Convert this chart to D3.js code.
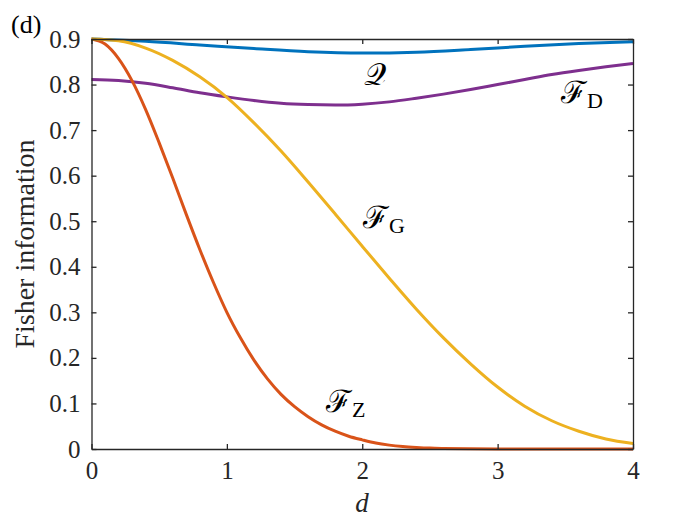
<!DOCTYPE html>
<html><head><meta charset="utf-8">
<script src="https://cdn.jsdelivr.net/npm/d3@7"></script>
<style>body{margin:0;background:#fff}svg{display:block}</style>
</head><body>
<svg id="c" width="700" height="525"></svg>
<script>
const xTicks = [0, 1, 2, 3, 4];
const yTicks = [0, 0.1, 0.2, 0.3, 0.4, 0.5, 0.6, 0.7, 0.8, 0.9];
const yTickLabels = ["0", "0.1", "0.2", "0.3", "0.4", "0.5", "0.6", "0.7", "0.8", "0.9"];

const qD = [0, 0.4, 0.8, 1.2, 1.6, 2.0, 2.4, 2.8, 3.2, 3.6, 4.0];
const qV = [0.900, 0.895, 0.887, 0.879, 0.872, 0.869, 0.871, 0.877, 0.884, 0.890, 0.894];

const fdD = [0, 0.2, 0.4, 0.6, 0.8, 1.0, 1.2, 1.4, 1.6, 1.8, 2.0, 2.2, 2.4, 2.6, 2.8, 3.0, 3.2, 3.4, 3.6, 3.8, 4.0];
const fdV = [0.811, 0.809, 0.803, 0.793, 0.782, 0.773, 0.765, 0.759, 0.756, 0.755, 0.757, 0.762, 0.770, 0.779, 0.789, 0.800, 0.811, 0.822, 0.831, 0.839, 0.846];

const fgD = [0, 0.2, 0.4, 0.6, 0.8, 1.0, 1.2, 1.4, 1.6, 1.8, 2.0, 2.2, 2.4, 2.6, 2.8, 3.0, 3.2, 3.4, 3.6, 3.8, 4.0];
const fgV = [0.900, 0.896, 0.880, 0.853, 0.817, 0.772, 0.716, 0.654, 0.586, 0.516, 0.445, 0.375, 0.307, 0.244, 0.187, 0.136, 0.094, 0.062, 0.039, 0.022, 0.012];

const fzD = [0, 0.1, 0.2, 0.3, 0.4, 0.5, 0.6, 0.7, 0.8, 0.9, 1.0, 1.1, 1.2, 1.3, 1.4, 1.5, 1.6, 1.7, 1.8, 1.9, 2.0, 2.1, 2.2, 2.3, 2.4, 2.5, 2.6, 2.8, 3.0, 3.5, 4.0];
const fzV = [0.900, 0.889, 0.857, 0.808, 0.745, 0.672, 0.595, 0.515, 0.438, 0.366, 0.300, 0.244, 0.195, 0.154, 0.120, 0.093, 0.071, 0.053, 0.039, 0.028, 0.020, 0.013, 0.0085, 0.0055, 0.0035, 0.002, 0.0012, 0.0004, 0.0001, 0, 0];

const seriesNames = ["Q", "FD", "FZ", "FG"];
const seriesColors = ["#0072BD", "#7E2F8E", "#D95319", "#EDB120"];

const svg = d3.select("#c");
const x = d3.scaleLinear().domain([0, 4]).range([91.5, 633]);
const y = d3.scaleLinear().domain([0, 0.9]).range([449, 39]);
const serif = "'Liberation Serif','Times New Roman',serif";
const axisCol = "#262626";

// data lines
const line = d3.line().x(d => x(d[0])).y(d => y(d[1])).curve(d3.curveMonotoneX);
const series = [
  [qD, qV], [fdD, fdV], [fzD, fzV], [fgD, fgV]
];
series.forEach((s, i) => {
  const pts = s[0].map((d, k) => [d, s[1][k]]);
  svg.append("path").datum(pts).attr("d", line)
    .attr("fill", "none").attr("stroke", seriesColors[i])
    .attr("stroke-width", 3).attr("stroke-linejoin", "round").attr("stroke-linecap", "butt");
});

// axes
const tickLen = 5;
const gB = svg.append("g").attr("transform", `translate(0,${y(0)})`)
  .call(d3.axisBottom(x).tickValues(xTicks).tickFormat(d3.format("d")).tickSizeInner(-tickLen).tickSizeOuter(0).tickPadding(12));
const gT = svg.append("g").attr("transform", `translate(0,${y(0.9)})`)
  .call(d3.axisTop(x).tickValues(xTicks).tickFormat("").tickSizeInner(-tickLen).tickSizeOuter(0));
const gL = svg.append("g").attr("transform", `translate(${x(0)},0)`)
  .call(d3.axisLeft(y).tickValues(yTicks).tickFormat((d, i) => yTickLabels[i]).tickSizeInner(-tickLen).tickSizeOuter(0).tickPadding(11));
const gR = svg.append("g").attr("transform", `translate(${x(4)},0)`)
  .call(d3.axisRight(y).tickValues(yTicks).tickFormat("").tickSizeInner(-tickLen).tickSizeOuter(0));
[gB, gT, gL, gR].forEach(g => {
  g.select(".domain").attr("stroke", axisCol).attr("stroke-width", 1.3);
  g.selectAll(".tick line").attr("stroke", axisCol).attr("stroke-width", 1.3);
  g.selectAll(".tick text").attr("fill", axisCol).attr("font-family", serif).attr("font-size", 25);
});

// axis labels
svg.append("text").attr("x", 362).attr("y", 512).attr("text-anchor", "middle")
  .attr("font-family", serif).attr("font-style", "italic").attr("font-size", 27).attr("fill", axisCol).text("d");
svg.append("text").attr("transform", `translate(34,${(y(0)+y(0.9))/2}) rotate(-90)`).attr("text-anchor", "middle")
  .attr("font-family", serif).attr("font-size", 28).attr("fill", axisCol).text("Fisher information");
svg.append("text").attr("x", 11).attr("y", 33).attr("font-family", serif).attr("font-size", 26).attr("fill", "#000").text("(d)");

// curve labels
function lab(px, py, main, sub) {
  const t = svg.append("text").attr("x", px).attr("y", py).attr("font-family", "'DejaVu Serif',serif").attr("fill", "#000");
  t.append("tspan").attr("font-size", 31).text(main);
  if (sub) t.append("tspan").attr("font-family", serif).attr("font-size", 22).attr("dy", 5).attr("dx", 0).text(sub);
}
lab(364, 85, "\u{1D4AC}");
lab(561, 103, "\u2131", "D");
lab(363, 228, "\u2131", "G");
lab(326, 412, "\u2131", "Z");
</script>
</body></html>
